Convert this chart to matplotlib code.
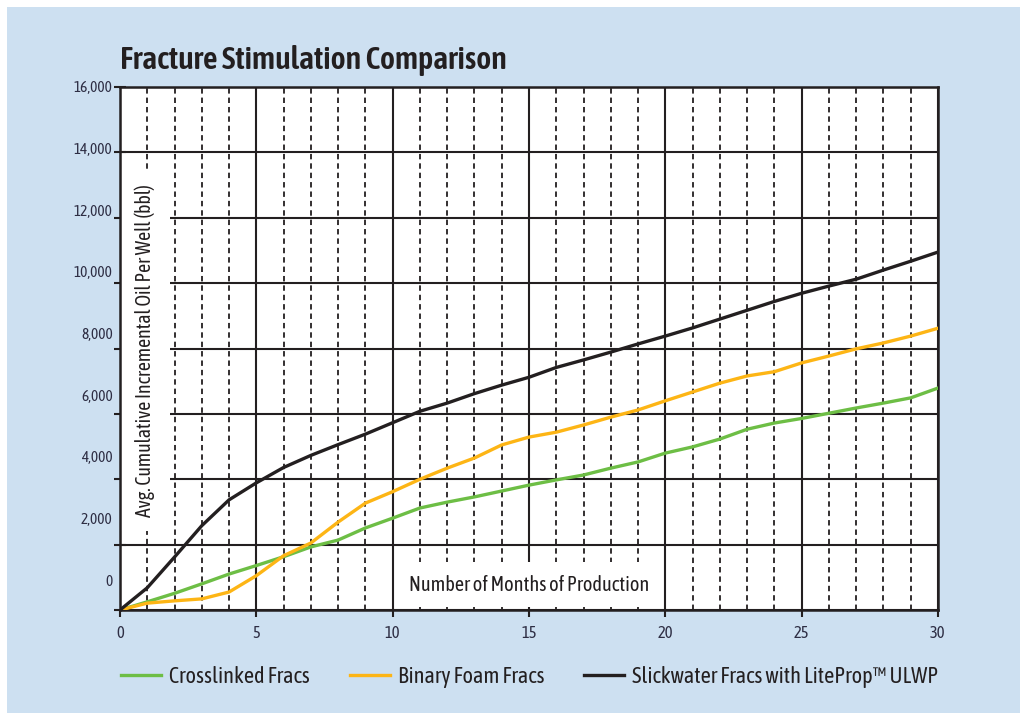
import matplotlib
matplotlib.use("Agg")
import matplotlib.pyplot as plt
from matplotlib.patches import Rectangle

# ---------------- data ----------------
months = list(range(0, 31))
crosslinked = [0, 250, 510, 800, 1100, 1360, 1630, 1930, 2140, 2510, 2810, 3120, 3300, 3460,
               3640, 3820, 3980, 4130, 4340, 4530, 4800, 4990, 5230, 5530, 5720, 5860, 6020,
               6180, 6330, 6490, 6790]
binary_foam = [0, 210, 280, 340, 550, 1050, 1660, 2050, 2690, 3270, 3620, 4000, 4340, 4650,
               5050, 5290, 5440, 5660, 5900, 6120, 6400, 6670, 6940, 7160, 7290, 7560, 7770,
               7990, 8170, 8380, 8620]
slickwater = [0, 680, 1620, 2580, 3370, 3890, 4360, 4730, 5060, 5380, 5730, 6080, 6330, 6620,
              6880, 7120, 7420, 7650, 7890, 8140, 8380, 8630, 8900, 9170, 9440, 9690, 9910,
              10120, 10400, 10670, 10950]
series_names = ["Crosslinked Fracs", "Binary Foam Fracs", "Slickwater Fracs with LiteProp\u2122 ULWP"]
y_ticks = [0, 2000, 4000, 6000, 8000, 10000, 12000, 14000, 16000]
y_tick_labels = ["0", "2,000", "4,000", "6,000", "8,000", "10,000", "12,000", "14,000", "16,000"]
x_ticks = [0, 5, 10, 15, 20, 25, 30]
title = "Fracture Stimulation Comparison"
x_label = "Number of Months of Production"
y_label = "Avg. Cumulative Incremental Oil Per Well (bbl)"

# ---------------- style ----------------
FONT = ["Asap Condensed", "PT Sans Narrow", "Archivo Narrow", "DejaVu Sans"]
BG = "#CDE0F1"
INK = "#231F20"
LABEL_INK = "#2e2e44"
GREEN = "#6DBE45"
ORANGE = "#FDB515"

W, H = 1024, 717
fig = plt.figure(figsize=(W / 100, H / 100), dpi=100, facecolor="white")
fig.patches.append(Rectangle((7 / W, 4 / H), 1013 / W, 706 / H, transform=fig.transFigure,
                             facecolor=BG, edgecolor="none", zorder=-10))

L, R, T, B = 120, 938, 87, 610
ax = fig.add_axes([L / W, 1 - B / H, (R - L) / W, (B - T) / H])
ax.set_facecolor("white")
ax.set_xlim(0, 30)
ax.set_ylim(0, 16000)
ax.set_axisbelow(True)

ax.set_xticks(x_ticks)
ax.set_xticks(months, minor=True)
ax.set_yticks(y_ticks)
ax.set_yticklabels([""] * len(y_ticks))
ax.set_xticklabels([str(v) for v in x_ticks], fontfamily=FONT, fontsize=12, color=LABEL_INK)
ax.tick_params(axis="x", which="major", direction="out", length=5, width=1.5, color=INK, pad=6)
ax.tick_params(axis="x", which="minor", length=0)
ax.tick_params(axis="y", which="major", direction="inout", length=9, width=1.5, color=INK)

ax.grid(which="major", axis="both", color=INK, linewidth=1.5, linestyle="-", zorder=0.5)
ax.grid(which="minor", axis="x", color=INK, linewidth=1.3, linestyle=(0, (3.0, 2.2)), zorder=0.5)
for s in ax.spines.values():
    s.set_color(INK)
    s.set_linewidth(1.8)

# offset y tick labels (as in the original artwork)
lab_lo = (B - 582) / (B - T) * 16000
lab_hi = (B - 88) / (B - T) * 16000
for v, lab in zip(y_ticks, y_tick_labels):
    ypos = lab_lo + v / 16000 * (lab_hi - lab_lo)
    ax.text(-0.009, ypos, lab, transform=ax.get_yaxis_transform(), ha="right", va="center",
            fontfamily=FONT, fontsize=11, color=LABEL_INK)

l1, = ax.plot(months, crosslinked, color=GREEN, linewidth=2.4, zorder=3, label=series_names[0])
l2, = ax.plot(months, binary_foam, color=ORANGE, linewidth=2.4, zorder=3, label=series_names[1])
l3, = ax.plot(months, slickwater, color=INK, linewidth=2.4, zorder=3, label=series_names[2])

# axis labels inside the plot with white boxes
ax.text(0.92, 7950, y_label, rotation=90, ha="center", va="center", fontfamily=FONT,
        fontsize=14.2, color=INK, zorder=2,
        bbox=dict(boxstyle="square,pad=0.75", facecolor="white", edgecolor="none"))
ax.text(15, 780, x_label, ha="center", va="center", fontfamily=FONT, fontsize=14.6,
        color=INK, zorder=2,
        bbox=dict(boxstyle="square,pad=0.6", facecolor="white", edgecolor="none"))

fig.text(L / W, 1 - 61 / H, title, ha="left", va="center", fontfamily=FONT,
         fontweight=600, fontsize=23, color=INK)

leg = fig.legend(handles=[l1, l2, l3], loc="center left", ncol=3,
                 bbox_to_anchor=(121 / W, 1 - 677 / H), frameon=False,
                 prop={"family": FONT, "size": 16}, handlelength=1.8, handletextpad=0.36,
                 columnspacing=1.8, borderpad=0, borderaxespad=0)
for t in leg.get_texts():
    t.set_color(INK)

fig.savefig("out.png", dpi=100, facecolor="white")
